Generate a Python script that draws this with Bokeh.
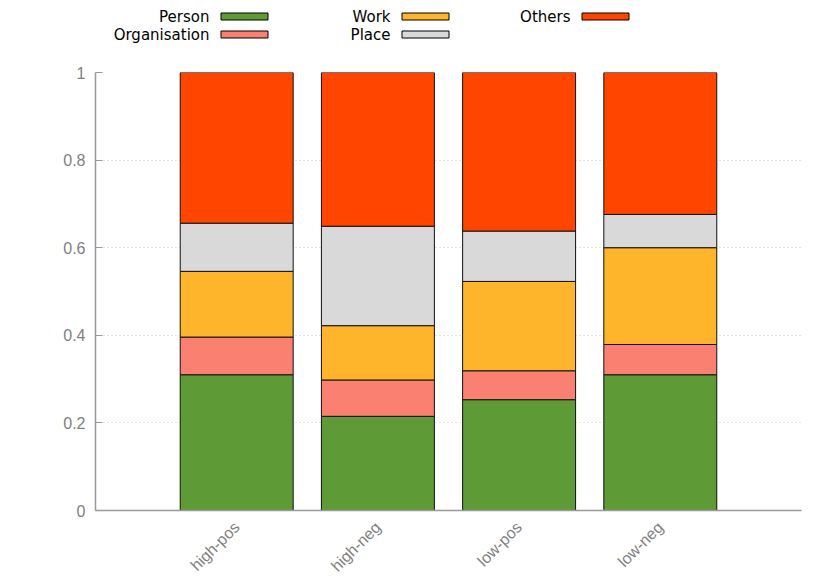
import math
from bokeh.plotting import figure
from bokeh.layouts import column
from bokeh.models import Range1d, FactorRange, FixedTicker, ColumnDataSource
from bokeh.core.properties import value
from bokeh.embed import file_html
from bokeh.resources import INLINE

# ---- data ----
categories = ["high-pos", "high-neg", "low-pos", "low-neg"]
series = ["Person", "Organisation", "Work", "Place", "Others"]
person = [0.310, 0.215, 0.253, 0.310]
organisation = [0.086, 0.083, 0.066, 0.069]
work = [0.150, 0.124, 0.204, 0.221]
place = [0.110, 0.227, 0.115, 0.076]
others = [0.344, 0.351, 0.362, 0.324]
colors = ["#5e9a36", "#fa8072", "#ffb52b", "#d9d9d9", "#ff4500"]
y_ticks = [0, 0.2, 0.4, 0.6, 0.8, 1.0]
y_tick_labels = ["0", "0.2", "0.4", "0.6", "0.8", "1"]

FONT = "Liberation Sans"
LEG_FONT = "DejaVu Sans"
FW = 706           # frame width (pixels)
BL, BR = 95, 21    # left / right borders

# ---- legend strip (frame-pixel coordinates) ----
LH = 58
leg = figure(frame_width=FW, frame_height=LH, x_range=Range1d(0, FW),
             y_range=Range1d(LH, 0),
             output_backend="svg", toolbar_location=None,
             x_axis_location=None, y_axis_location=None,
             min_border_left=BL, min_border_right=BR,
             min_border_top=0, min_border_bottom=0)
leg.outline_line_color = None
leg.grid.visible = False

col_text_right = [114, 295, 475]
row_y = [16, 34]
lx, ly, rx, ry = [], [], [], []
for i, name in enumerate(series):
    c, r = i // 2, i % 2
    lx.append(col_text_right[c])
    ly.append(row_y[r])
    rx.append(col_text_right[c] + 35)
    ry.append(row_y[r])
leg_src = ColumnDataSource(dict(x=lx, y=ly, rx=rx, ry=ry, name=series, color=colors))
leg.text(x="x", y="y", text="name", source=leg_src, text_align="right",
         text_baseline="middle", text_font=value(LEG_FONT), text_font_size="15px",
         text_color="#000000")
leg.rect(x="rx", y="ry", width=47, height=7, source=leg_src, fill_color="color",
         line_color="#000000", line_width=1)

# ---- main chart ----
data = dict(cat=categories, Person=person, Organisation=organisation,
            Work=work, Place=place, Others=others)
src = ColumnDataSource(data)

p = figure(x_range=FactorRange(factors=categories, range_padding=0.5,
                               range_padding_units="absolute"),
           y_range=Range1d(0, 1),
           frame_width=FW, frame_height=438,
           min_border_left=BL, min_border_top=14, min_border_right=BR,
           min_border_bottom=60,
           output_backend="svg", toolbar_location=None)

p.vbar_stack(series, x="cat", width=0.8, color=colors, source=src,
             line_color="#111111", line_width=1)

p.outline_line_color = None
p.xgrid.visible = False
p.ygrid.ticker = FixedTicker(ticks=y_ticks)
p.ygrid.grid_line_color = "#c8c8c8"
p.ygrid.grid_line_dash = "1 3"
p.ygrid.grid_line_width = 1

p.yaxis.ticker = FixedTicker(ticks=y_ticks)
p.yaxis.major_label_overrides = {t: l for t, l in zip(y_ticks, y_tick_labels)}
p.yaxis.major_tick_in = 7
p.yaxis.major_tick_out = 0
p.yaxis.minor_tick_line_color = None
p.yaxis.major_tick_line_color = "#999999"
p.yaxis.major_label_standoff = 10

for ax in (p.xaxis, p.yaxis):
    ax.axis_line_color = "#999999"
    ax.axis_line_width = 1.5
    ax.major_label_text_color = "#808080"
    ax.major_label_text_font = FONT
    ax.major_label_text_font_size = "16px"

p.xaxis.major_tick_line_color = None
p.xaxis.minor_tick_line_color = None
p.xaxis.major_label_orientation = math.pi / 4
p.xaxis.major_label_standoff = 8

layout = column(leg, p)
open("out.html", "w").write(file_html(layout, INLINE))
